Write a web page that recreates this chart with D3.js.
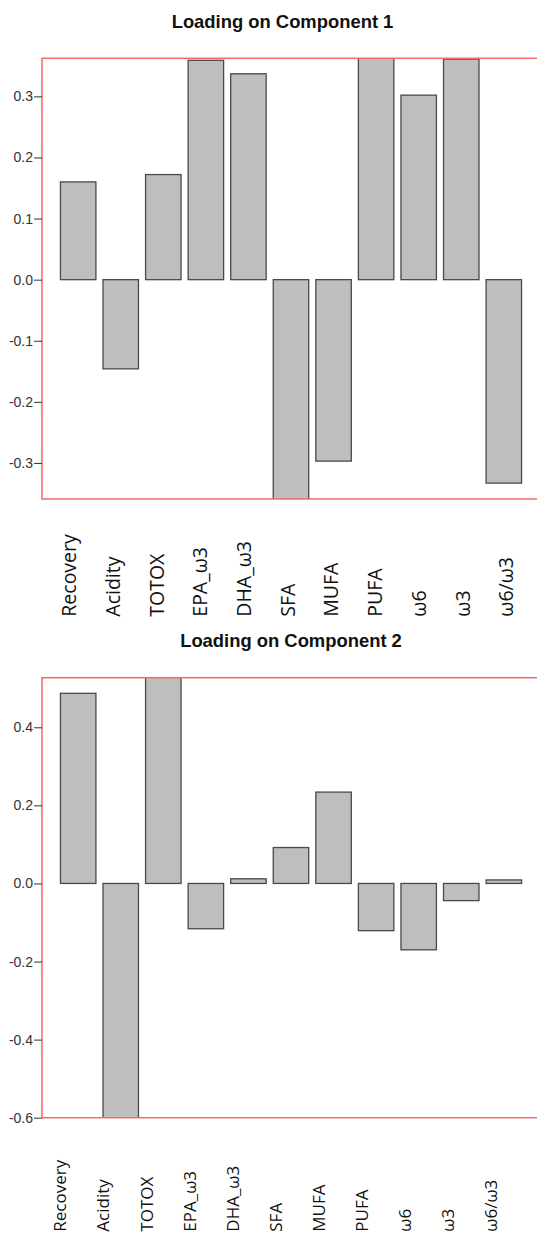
<!DOCTYPE html>
<html>
<head>
<meta charset="utf-8">
<script src="https://cdn.jsdelivr.net/npm/d3@7"></script>
<style>
  html, body { margin: 0; padding: 0; background: #fff; }
  svg { display: block; }
</style>
</head>
<body>
<script>
// ---- data ----
const categories = ["Recovery", "Acidity", "TOTOX", "EPA_ω3", "DHA_ω3", "SFA", "MUFA", "PUFA", "ω6", "ω3", "ω6/ω3"];
const loading1 = [0.160, -0.146, 0.172, 0.359, 0.337, -0.372, -0.297, 0.368, 0.302, 0.361, -0.333];
const loading2 = [0.487, -0.620, 0.550, -0.116, 0.012, 0.092, 0.234, -0.121, -0.170, -0.044, 0.009];
const ticks1 = [-0.3, -0.2, -0.1, 0.0, 0.1, 0.2, 0.3];
const ticks2 = [-0.6, -0.4, -0.2, 0.0, 0.2, 0.4];
const titles = ["Loading on Component 1", "Loading on Component 2"];
const yDomain1 = [-0.359, 0.3623];
const yDomain2 = [-0.600, 0.527];

// ---- layout ----
const W = 537, H = 1240;
const panels = [
  { title: titles[0], values: loading1, ticks: ticks1, yDomain: yDomain1,
    top: 58.3, bottom: 499, titleX: 282.5, titleY: 28.3,
    labelRange: [69.3, 506.5], labelY: 616.7, labelSize: 19.5 },
  { title: titles[1], values: loading2, ticks: ticks2, yDomain: yDomain2,
    top: 677.7, bottom: 1117.7, titleX: 291, titleY: 647.3,
    labelRange: [60.4, 491.4], labelY: 1231.7, labelSize: 17 }
];
const frameLeft = 42, frameRight = 540;
const fmt = d => d3.format(".1f")(d).replace("\u2212", "-");

const svg = d3.select("body").append("svg")
  .attr("width", W).attr("height", H)
  .attr("viewBox", `0 0 ${W} ${H}`);
svg.append("rect").attr("width", W).attr("height", H).attr("fill", "#fff");
const defs = svg.append("defs");

panels.forEach((p, pi) => {
  const g = svg.append("g");

  const x = d3.scaleBand()
    .domain(categories)
    .range([frameLeft, frameRight])
    .paddingInner(1 / 6)
    .paddingOuter(0.4333);

  const y = d3.scaleLinear().domain(p.yDomain).range([p.bottom, p.top]);

  // title
  g.append("text")
    .attr("x", p.titleX).attr("y", p.titleY)
    .attr("text-anchor", "middle")
    .attr("font-family", "'Liberation Sans', Arial, sans-serif")
    .attr("font-weight", "bold")
    .attr("font-size", 18.4)
    .attr("fill", "#111")
    .text(p.title);

  // clip for bars
  const clipId = "clip" + pi;
  defs.append("clipPath").attr("id", clipId)
    .append("rect")
    .attr("x", frameLeft).attr("y", p.top)
    .attr("width", frameRight - frameLeft).attr("height", p.bottom - p.top);

  // bars
  g.append("g").attr("clip-path", `url(#${clipId})`)
    .selectAll("rect")
    .data(categories.map((c, i) => ({ c, v: p.values[i] })))
    .join("rect")
    .attr("x", d => x(d.c))
    .attr("width", x.bandwidth())
    .attr("y", d => y(Math.max(0, d.v)))
    .attr("height", d => Math.abs(y(d.v) - y(0)))
    .attr("fill", "#bebebe")
    .attr("stroke", "#4a4a4a")
    .attr("stroke-width", 1.3);

  // frame
  g.append("rect")
    .attr("x", frameLeft).attr("y", p.top)
    .attr("width", frameRight - frameLeft).attr("height", p.bottom - p.top)
    .attr("fill", "none")
    .attr("stroke", "#f26a6a")
    .attr("stroke-width", 1.5);

  // y axis
  const axis = d3.axisLeft(y)
    .tickValues(p.ticks)
    .tickFormat(fmt)
    .tickSize(8)
    .tickPadding(1);
  const ag = g.append("g").attr("transform", `translate(${frameLeft},0)`).call(axis);
  ag.select(".domain").remove();
  ag.selectAll(".tick line").attr("stroke", "#333");
  ag.selectAll(".tick text")
    .attr("fill", "#333")
    .attr("font-family", "'Liberation Sans', Arial, sans-serif")
    .attr("font-size", 14);

  // category labels (rotated, reading bottom to top)
  const lx = d3.scalePoint().domain(categories).range(p.labelRange);
  g.append("g").selectAll("text")
    .data(categories)
    .join("text")
    .attr("transform", d => `translate(${lx(d)},${p.labelY}) rotate(-90)`)
    .attr("text-anchor", "start")
    .attr("dy", "0.35em")
    .attr("font-family", "'Open Sans', 'Noto Sans', sans-serif")
    .attr("font-size", p.labelSize)
    .attr("fill", "#111")
    .text(d => d);
});
</script>
</body>
</html>
